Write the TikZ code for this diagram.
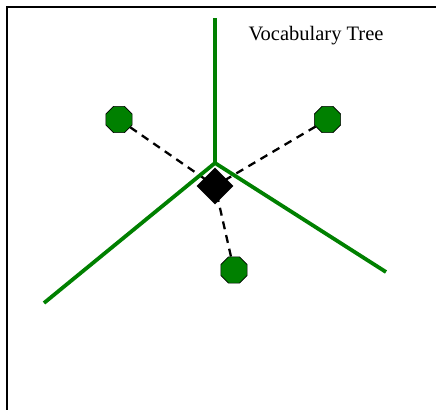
\documentclass[tikz,border=0pt]{standalone}
\usepackage{fontspec}
\setmainfont{Liberation Serif}
\usetikzlibrary{shapes.geometric,backgrounds}
\definecolor{treegreen}{RGB}{0,128,0}
\tikzset{
  branch/.style={draw=treegreen, line width=3.8pt},
  octa/.style={regular polygon, regular polygon sides=8, minimum size=28.5pt, inner sep=0pt, fill=treegreen, draw=black, line width=0.6pt},
  query/.style={diamond, aspect=1, minimum width=37pt, minimum height=37pt, inner sep=0pt, fill=black},
  link/.style={draw=black, line width=2.3pt, dash pattern=on 8pt off 6pt},
  frame/.style={draw=black, line width=2.2pt}
}
\begin{document}
\begin{tikzpicture}[x=1pt, y=-1pt]
\useasboundingbox (0,0) rectangle (436,410);
\coordinate (tl) at (7,7);
\coordinate (tr) at (436,7);
\coordinate (bl) at (7,410);
\draw[frame] (tr) -- (tl) -- (bl);
\coordinate (j) at (215,163);
\coordinate (up) at (215,18);
\coordinate (lf) at (44,303);
\coordinate (rt) at (386,272);
\node[octa] (o1) at (119,119.5) {};
\node[octa] (o2) at (327.5,119.5) {};
\node[octa] (o3) at (234,270) {};
\node[query] (d) at (215,186) {};
\begin{scope}[on background layer]
\draw[link] (o1) -- (d.center);
\draw[link] (o2) -- (d.center);
\draw[link] (o3) -- (d.center);
\draw[branch] (up) -- (j);
\draw[branch] (lf) -- (j) -- (rt);
\end{scope}
\node[font=\fontsize{20.5}{24}\selectfont] (title) at (316,36) {Vocabulary Tree};
\end{tikzpicture}
\end{document}
